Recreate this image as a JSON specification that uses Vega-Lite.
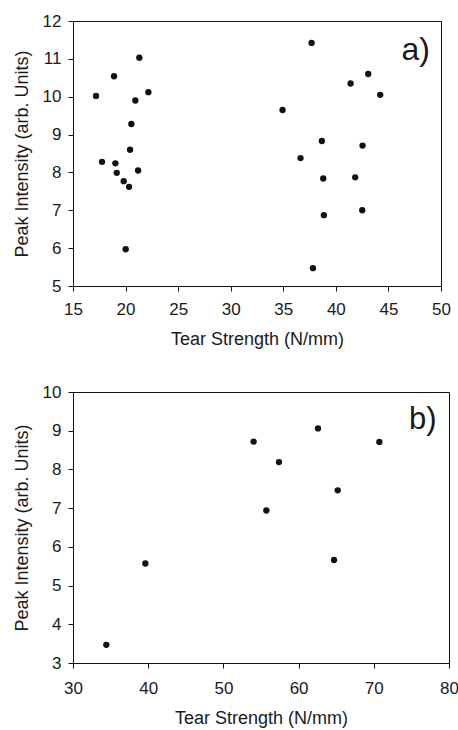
{
  "$schema": "https://vega.github.io/schema/vega-lite/v6.json",
  "padding": {"left": 12, "top": 11, "right": 0, "bottom": 0},
  "background": "white",
  "config": {
    "font": "Liberation Sans",
    "view": {"stroke": "#111", "strokeWidth": 1},
    "axis": {
      "grid": false,
      "labelFontSize": 17,
      "titleFontSize": 18,
      "titleFontWeight": "normal",
      "labelColor": "#1a1a1a",
      "titleColor": "#1a1a1a",
      "tickColor": "#111",
      "domainColor": "#111",
      "tickSize": 5,
      "labelFlush": false,
      "labelOverlap": false
    },
    "axisX": {"labelPadding": 10, "titlePadding": 13},
    "axisY": {"labelPadding": 7, "titlePadding": 11}
  },
  "datasets": {
    "a": [
      {"tear": 17.19, "peak": 10.02},
      {"tear": 17.76, "peak": 8.28},
      {"tear": 18.90, "peak": 10.54},
      {"tear": 19.03, "peak": 8.24},
      {"tear": 19.16, "peak": 7.99},
      {"tear": 19.82, "peak": 7.77},
      {"tear": 20.01, "peak": 5.97},
      {"tear": 20.33, "peak": 7.62},
      {"tear": 20.43, "peak": 8.60},
      {"tear": 20.55, "peak": 9.28},
      {"tear": 20.93, "peak": 9.90},
      {"tear": 21.19, "peak": 8.05},
      {"tear": 21.31, "peak": 11.03},
      {"tear": 22.17, "peak": 10.12},
      {"tear": 34.93, "peak": 9.65},
      {"tear": 36.64, "peak": 8.38},
      {"tear": 37.69, "peak": 11.42},
      {"tear": 37.82, "peak": 5.47},
      {"tear": 38.67, "peak": 8.83},
      {"tear": 38.80, "peak": 7.84},
      {"tear": 38.86, "peak": 6.87},
      {"tear": 41.40, "peak": 10.35},
      {"tear": 41.84, "peak": 7.87},
      {"tear": 42.54, "peak": 8.71},
      {"tear": 42.51, "peak": 7.00},
      {"tear": 43.08, "peak": 10.60},
      {"tear": 44.22, "peak": 10.05}
    ],
    "b": [
      {"tear": 34.43, "peak": 3.47},
      {"tear": 39.62, "peak": 5.57},
      {"tear": 54.02, "peak": 8.72},
      {"tear": 55.71, "peak": 6.94},
      {"tear": 57.39, "peak": 8.19},
      {"tear": 62.58, "peak": 9.06},
      {"tear": 64.71, "peak": 5.66},
      {"tear": 65.20, "peak": 7.46},
      {"tear": 70.74, "peak": 8.71}
    ]
  },
  "spacing": 33,
  "center": true,
  "align": "none",
  "vconcat": [
    {
      "width": 368,
      "height": 265,
      "encoding": {
        "x": {"type": "quantitative", "title": "Tear Strength (N/mm)",
              "scale": {"domain": [15, 50], "nice": false, "zero": false},
              "axis": {"values": [15, 20, 25, 30, 35, 40, 45, 50], "labelOverlap": false}},
        "y": {"type": "quantitative", "title": "Peak Intensity (arb. Units)",
              "scale": {"domain": [5, 12], "nice": false, "zero": false},
              "axis": {"values": [5, 6, 7, 8, 9, 10, 11, 12], "labelOverlap": false}}
      },
      "layer": [
        {
          "data": {"name": "a"},
          "mark": {"type": "circle", "size": 40, "color": "#111", "opacity": 1},
          "encoding": {
            "x": {"field": "tear", "type": "quantitative"},
            "y": {"field": "peak", "type": "quantitative"}
          }
        },
        {
          "data": {"values": [{"label": "a)"}]},
          "mark": {"type": "text", "fontSize": 32, "align": "center", "baseline": "alphabetic", "color": "#1a1a1a"},
          "encoding": {
            "x": {"datum": 47.6, "type": "quantitative"},
            "y": {"datum": 10.97, "type": "quantitative"},
            "text": {"field": "label"}
          }
        }
      ]
    },
    {
      "width": 376,
      "height": 271,
      "encoding": {
        "x": {"type": "quantitative", "title": "Tear Strength (N/mm)",
              "scale": {"domain": [30, 80], "nice": false, "zero": false},
              "axis": {"values": [30, 40, 50, 60, 70, 80], "labelPadding": 12, "labelOverlap": false}},
        "y": {"type": "quantitative", "title": "Peak Intensity (arb. Units)",
              "scale": {"domain": [3, 10], "nice": false, "zero": false},
              "axis": {"values": [3, 4, 5, 6, 7, 8, 9, 10], "labelOverlap": false}}
      },
      "layer": [
        {
          "data": {"name": "b"},
          "mark": {"type": "circle", "size": 40, "color": "#111", "opacity": 1},
          "encoding": {
            "x": {"field": "tear", "type": "quantitative"},
            "y": {"field": "peak", "type": "quantitative"}
          }
        },
        {
          "data": {"values": [{"label": "b)"}]},
          "mark": {"type": "text", "fontSize": 31, "align": "center", "baseline": "alphabetic", "color": "#1a1a1a"},
          "encoding": {
            "x": {"datum": 76.5, "type": "quantitative"},
            "y": {"datum": 9.035, "type": "quantitative"},
            "text": {"field": "label"}
          }
        }
      ]
    }
  ]
}
